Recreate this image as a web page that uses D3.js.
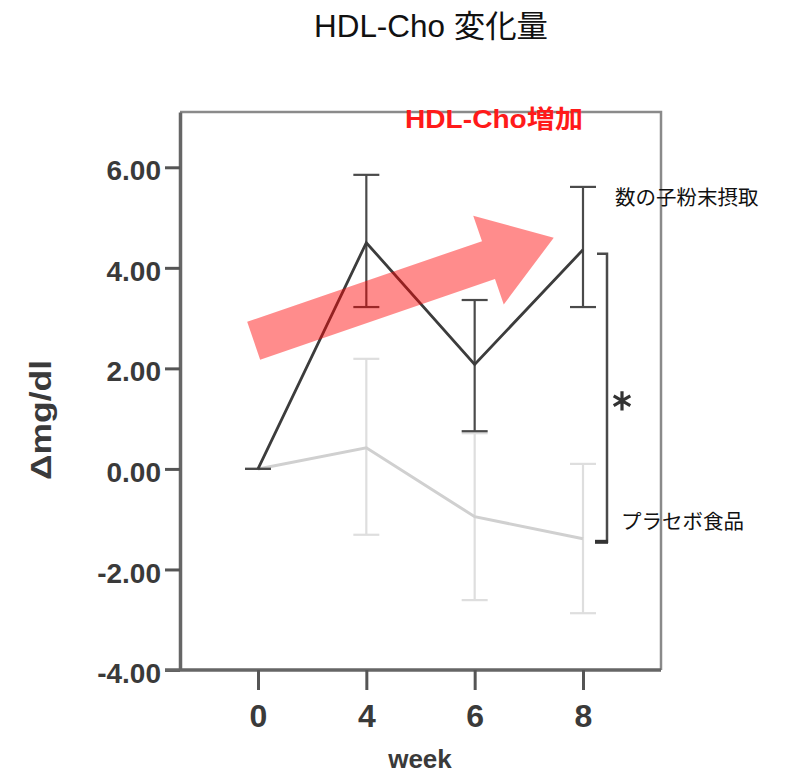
<!DOCTYPE html>
<html><head><meta charset="utf-8">
<script src="https://cdn.jsdelivr.net/npm/d3@7"></script>
<style>body{margin:0;background:#fff}</style>
</head><body>
<script>
// ---- data ----
const weeks = ["0","4","6","8"];
const yTicks = [-4,-2,0,2,4,6];
const treatMean = [0, 4.50, 2.08, 4.36];
const treatLow  = [0, 3.22, 0.75, 3.22];
const treatHigh = [0, 5.85, 3.36, 5.61];
const placeboMean = [0, 0.42, -0.95, -1.39];
const placeboLow  = [0, -1.31, -2.61, -2.87];
const placeboHigh = [0, 2.19, 0.71, 0.10];
const seriesNames = ["数の子粉末摂取", "プラセボ食品"];
const titleText = "HDL-Cho 変化量";
const noteText = "HDL-Cho増加";
const bracketRange = [4.28, -1.45];
const arrowFrom = [-0.04, 2.55]; // [week index, value]
const arrowTo = [2.73, 4.60];

(function () {
const W = 785, H = 774;
const svg = d3.select("body").append("svg").attr("width", W).attr("height", H);

const pL = 180, pR = 661, pT = 112, pB = 670;
const x = d3.scalePoint().domain(weeks).range([pL, pR]).padding(0.72);
const xi = d3.scaleLinear().domain([0, 3]).range([x(weeks[0]), x(weeks[3])]);
const y = d3.scaleLinear().domain([-4, 7.1]).range([pB, pT]);
const fmt = d3.format(".2f");

// frame (top and right)
svg.append("path")
  .attr("d", `M${pL},${pT}H${pR}V${pB}`)
  .attr("fill", "none").attr("stroke", "#8a8a8a").attr("stroke-width", 2.5);

// axes
const yAxis = svg.append("g").attr("transform", `translate(${pL},0)`)
  .call(d3.axisLeft(y).tickValues(yTicks).tickFormat(d => fmt(d).replace("\u2212", "-"))
    .tickSize(15).tickSizeOuter(0).tickPadding(4));
yAxis.select(".domain").attr("stroke", "#666").attr("stroke-width", 3.5);
yAxis.selectAll(".tick line").attr("stroke", "#555").attr("stroke-width", 3);
yAxis.selectAll(".tick text").attr("font-family", "Liberation Sans, Arial, sans-serif")
  .attr("font-weight", "bold").attr("font-size", 28).attr("fill", "#3a3a3a").attr("dy", "0.45em");

const xAxis = svg.append("g").attr("transform", `translate(0,${pB})`)
  .call(d3.axisBottom(x).tickSize(20).tickSizeOuter(0));
xAxis.select(".domain").attr("stroke", "#666").attr("stroke-width", 3.5)
  .attr("d", `M${pL - 15},0H${pR}`);
xAxis.selectAll(".tick line").attr("stroke", "#555").attr("stroke-width", 3);
xAxis.selectAll(".tick text").attr("font-family", "Liberation Sans, Arial, sans-serif")
  .attr("font-weight", "bold").attr("font-size", 32).attr("fill", "#3a3a3a")
  .attr("y", 57).attr("dy", 0);

// axis titles
svg.append("text").attr("transform", "translate(51,420) rotate(-90)")
  .attr("text-anchor", "middle").attr("font-family", "Liberation Sans, Arial, sans-serif")
  .attr("font-weight", "bold").attr("font-size", 29).attr("fill", "#3a3a3a")
  .attr("textLength", 120).attr("lengthAdjust", "spacingAndGlyphs").text("Δmg/dl");
svg.append("text").attr("x", 420).attr("y", 768).attr("text-anchor", "middle")
  .attr("font-family", "Liberation Sans, Arial, sans-serif").attr("font-weight", "bold")
  .attr("font-size", 26).attr("fill", "#3a3a3a").text("week");

// series drawing
function drawSeries(mean, low, high, lineColor, barColor, lw) {
  const g = svg.append("g");
  const idx = d3.range(weeks.length);
  g.selectAll(null).data(idx).join("line")
    .attr("x1", i => x(weeks[i])).attr("x2", i => x(weeks[i]))
    .attr("y1", i => y(low[i])).attr("y2", i => y(high[i]))
    .attr("stroke", barColor).attr("stroke-width", 2.2);
  [low, high].forEach(arr => {
    g.selectAll(null).data(idx).join("line")
      .attr("x1", i => x(weeks[i]) - 13).attr("x2", i => x(weeks[i]) + 13)
      .attr("y1", i => y(arr[i])).attr("y2", i => y(arr[i]))
      .attr("stroke", barColor).attr("stroke-width", 2.2);
  });
  g.append("path").datum(idx)
    .attr("d", d3.line().x(i => x(weeks[i])).y(i => y(mean[i])))
    .attr("fill", "none").attr("stroke", lineColor).attr("stroke-width", lw);
}
drawSeries(placeboMean, placeboLow, placeboHigh, "#d0d0d0", "#dedede", 3);
drawSeries(treatMean, treatLow, treatHigh, "#3c3c3c", "#4a4a4a", 2.8);

// significance bracket
const bx = 607;
svg.append("path")
  .attr("d", `M${bx - 10},${y(bracketRange[0])}H${bx}V${y(bracketRange[1])}H${bx - 11}`)
  .attr("fill", "none").attr("stroke", "#4a4a4a").attr("stroke-width", 2.5);
svg.append("line").attr("x1", bx - 12).attr("x2", bx + 1)
  .attr("y1", y(bracketRange[1])).attr("y2", y(bracketRange[1]))
  .attr("stroke", "#333").attr("stroke-width", 4);
svg.append("path")
  .attr("transform", `translate(622,${(y(bracketRange[0]) + y(bracketRange[1])) / 2 + 3})`)
  .attr("d", d3.symbol(d3.symbolAsterisk, 260)())
  .attr("fill", "none").attr("stroke", "#333").attr("stroke-width", 3.2);

// arrow
{
  const x0 = xi(arrowFrom[0]), y0 = y(arrowFrom[1]);
  const x1 = xi(arrowTo[0]), y1 = y(arrowTo[1]);
  const dx = x1 - x0, dy = y1 - y0, L = Math.hypot(dx, dy);
  const ux = dx / L, uy = dy / L, nx = -uy, ny = ux;
  const sw = 20, hw = 47, hl = 69;
  const bxp = x1 - ux * hl, byp = y1 - uy * hl;
  const pts = [
    [x0 + nx * sw, y0 + ny * sw], [bxp + nx * sw, byp + ny * sw], [bxp + nx * hw, byp + ny * hw],
    [x1, y1], [bxp - nx * hw, byp - ny * hw], [bxp - nx * sw, byp - ny * sw], [x0 - nx * sw, y0 - ny * sw]
  ];
  svg.append("polygon").attr("points", pts.map(p => p.join(",")).join(" "))
    .attr("fill", "#ff0000").attr("fill-opacity", 0.45);
}

// texts
const cjk = "'Liberation Sans', 'Noto Sans CJK JP', sans-serif";
svg.append("text").attr("x", 431).attr("y", 37).attr("text-anchor", "middle")
  .attr("font-family", cjk).attr("font-size", 31).attr("fill", "#111")
  .attr("textLength", 234).attr("lengthAdjust", "spacingAndGlyphs").text(titleText);
svg.append("text").attr("x", 494).attr("y", 128).attr("text-anchor", "middle")
  .attr("font-family", cjk).attr("font-weight", "bold").attr("font-size", 25).attr("fill", "#ff1a1a")
  .attr("textLength", 178).attr("lengthAdjust", "spacingAndGlyphs").text(noteText);
svg.append("text").attr("x", 615).attr("y", 205)
  .attr("font-family", "'Noto Sans CJK JP', sans-serif").attr("font-size", 20.5).attr("fill", "#111").text(seriesNames[0]);
svg.append("text").attr("x", 621).attr("y", 529)
  .attr("font-family", "'Noto Sans CJK JP', sans-serif").attr("font-size", 20.5).attr("fill", "#111").text(seriesNames[1]);
})();
</script>
</body></html>
